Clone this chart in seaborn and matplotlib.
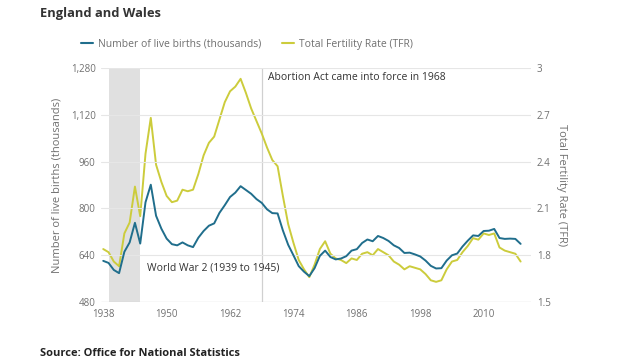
import numpy as np
import pandas as pd
import matplotlib.pyplot as plt
import seaborn as sns

years = list(range(1938, 2018))
births = [621, 614, 590, 579, 652, 684, 751, 680, 821, 881,
          775, 731, 697, 678, 674, 684, 674, 668, 700, 723,
          741, 749, 785, 811, 839, 854, 876, 863, 850, 832,
          819, 797, 784, 783, 725, 676, 640, 603, 584, 569,
          596, 638, 656, 634, 626, 629, 637, 656, 661, 682,
          694, 688, 706, 699, 689, 674, 665, 648, 649, 643,
          636, 622, 604, 595, 596, 622, 640, 646, 670, 690,
          708, 706, 723, 724, 730, 699, 696, 697, 696, 679]
tfr = [1.84, 1.82, 1.76, 1.73, 1.94, 2.01, 2.24, 2.05, 2.45, 2.68,
       2.38, 2.27, 2.18, 2.14, 2.15, 2.22, 2.21, 2.22, 2.32, 2.44,
       2.52, 2.56, 2.67, 2.78, 2.85, 2.88, 2.93, 2.84, 2.74, 2.66,
       2.58, 2.49, 2.41, 2.37, 2.18, 2.00, 1.88, 1.77, 1.71, 1.66,
       1.74, 1.84, 1.89, 1.81, 1.78, 1.77, 1.75, 1.78, 1.77, 1.81,
       1.82, 1.80, 1.84, 1.82, 1.80, 1.76, 1.74, 1.71, 1.73, 1.72,
       1.71, 1.68, 1.64, 1.63, 1.64, 1.71, 1.76, 1.77, 1.82, 1.86,
       1.91, 1.90, 1.94, 1.93, 1.94, 1.85, 1.83, 1.82, 1.81, 1.76]
left_ticks = [480, 640, 800, 960, 1120, 1280]
left_labels = ['480', '640', '800', '960', '1,120', '1,280']
right_ticks = [1.5, 1.8, 2.1, 2.4, 2.7, 3.0]
right_labels = ['1.5', '1.8', '2.1', '2.4', '2.7', '3']
x_ticks = [1938, 1950, 1962, 1974, 1986, 1998, 2010]

df = pd.DataFrame({'year': years, 'births': births, 'tfr': tfr})

BLUE = '#206e8c'
YELLOW = '#cccc3c'
GREY = '#707070'

sns.set_style('white')
plt.rcParams['font.family'] = ['Open Sans', 'DejaVu Sans']

fig = plt.figure(figsize=(6.4, 3.61), dpi=100)
ax = fig.add_axes([0.158, 0.163, 0.672, 0.649])
ax2 = ax.twinx()

# gridlines on the bottom axes
for y in left_ticks[1:]:
    ax.axhline(y, color='#e6e6e6', lw=0.8, zorder=0)
ax.axhline(480, color='#cfcfcf', lw=0.9, zorder=0)

# war shading and abortion act line sit under the TFR line
ax2.axvspan(1939, 1945, color='#e0e0e0', lw=0, zorder=0)
ax2.axvline(1968, color='#d0d0d0', lw=0.9, zorder=1)

sns.lineplot(data=df, x='year', y='tfr', ax=ax2, color=YELLOW, lw=1.4, zorder=3)
sns.lineplot(data=df, x='year', y='births', ax=ax, color=BLUE, lw=1.4, zorder=3)

# births line on top of everything
ax.set_zorder(2)
ax.patch.set_visible(False)

ax.set_xlim(1937.6, 2019)
ax.set_ylim(480, 1280)
ax2.set_ylim(1.5, 3.0)
ax.set_yticks(left_ticks)
ax.set_yticklabels(left_labels)
ax2.set_yticks(right_ticks)
ax2.set_yticklabels(right_labels)
ax.set_xticks(x_ticks)

for a in (ax, ax2):
    for s in a.spines.values():
        s.set_visible(False)
    a.tick_params(labelsize=7, colors=GREY, length=0, pad=4)
ax.tick_params(axis='x', length=3, color='#cfcfcf', pad=2)

ax.set_xlabel('')
ax.set_ylabel('Number of live births (thousands)', fontsize=8, color=GREY, labelpad=6)
ax2.set_ylabel('Total Fertility Rate (TFR)', fontsize=8, color=GREY,
               rotation=270, labelpad=12)

ax.text(1969.2, 1248, 'Abortion Act came into force in 1968', fontsize=7.5,
        color='#333333', va='center')
ax.text(1946.3, 598, 'World War 2 (1939 to 1945)', fontsize=7.5,
        color='#333333', va='center')

fig.text(40 / 640, 1 - 14 / 361, 'England and Wales', fontsize=9.3,
         fontweight='bold', color='#333333', va='center')
fig.text(40 / 640, 1 - 353 / 361, 'Source: Office for National Statistics',
         fontsize=8, fontweight='bold', color='#222222', va='center')

# legend
handles = [plt.Line2D([], [], color=BLUE, lw=1.5),
           plt.Line2D([], [], color=YELLOW, lw=1.5)]
fig.legend(handles, ['Number of live births (thousands)', 'Total Fertility Rate (TFR)'],
           loc='center left', bbox_to_anchor=(72 / 640, 1 - 44 / 361), ncol=2,
           frameon=False, fontsize=7.5, handlelength=1.1, handletextpad=0.5,
           columnspacing=2.0, labelcolor=GREY)

fig.savefig('out.png', dpi=100)
